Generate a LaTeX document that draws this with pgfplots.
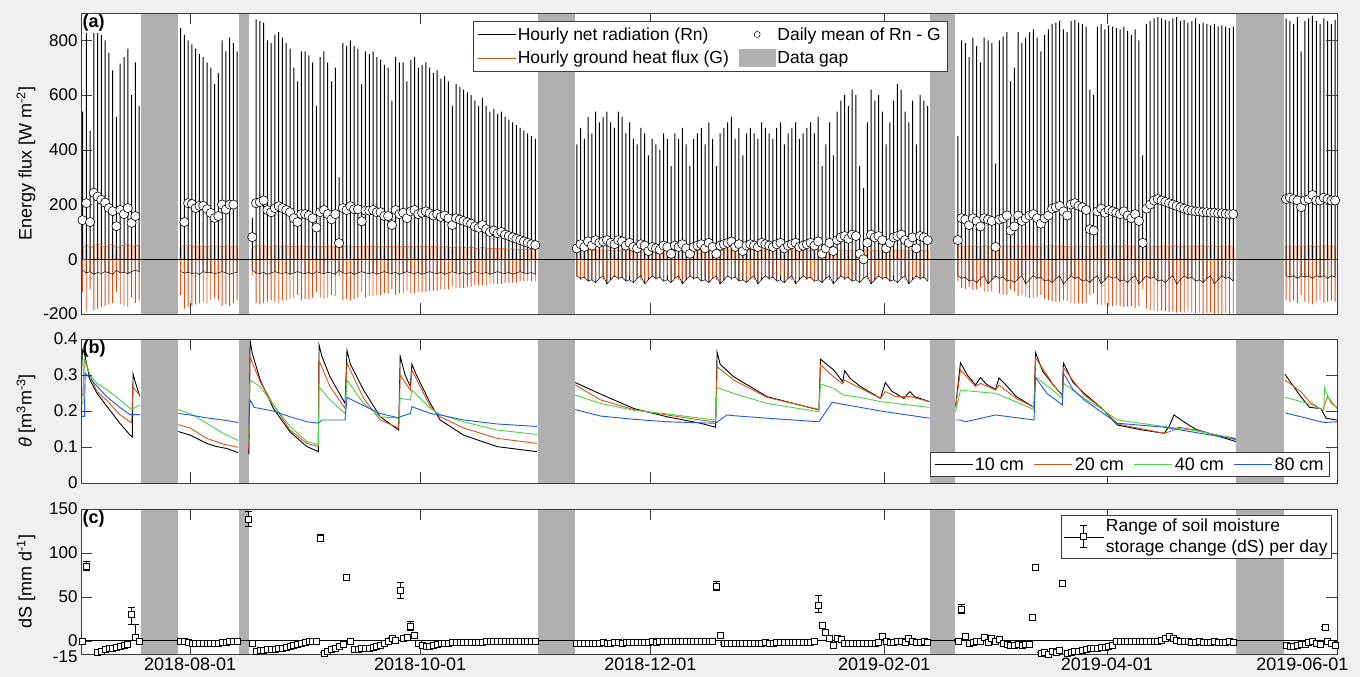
\documentclass[border=0pt]{standalone}
\usepackage{pgfplots}
\pgfplotsset{compat=1.18}
\usepackage{pgfplotstable}
\usepackage{fontspec}
\setmainfont{Liberation Sans}

\definecolor{bgc}{RGB}{240,240,240}
\definecolor{gapc}{RGB}{176,176,176}
\definecolor{mor}{RGB}{217,83,25}
\definecolor{peach}{RGB}{246,196,166}
\definecolor{mgr}{RGB}{77,208,70}
\definecolor{mbl}{RGB}{30,90,225}
\definecolor{axc}{RGB}{60,60,60}

% day index: days since 2018-07-01
\pgfplotstableread{
d rn rl gl gh m
2.5 540 -40 -120 40 143
3.5 850 -50 -190 55 205
4.5 470 -45 -110 40 136
5.5 830 -55 -185 50 243
6.5 870 -48 -180 55 229
7.5 820 -52 -175 50 217
8.5 800 -45 -170 45 207
9.5 755 -50 -165 50 187
10.5 690 -55 -160 55 176
11.5 520 -40 -120 40 121
12.5 715 -50 -165 50 180
13.5 740 -48 -170 50 165
14.5 770 -52 -175 55 187
15.5 600 -45 -140 45 133
16.5 720 -40 -160 50 158
17.5 560 -45 -150 50 nan
nan nan nan nan nan nan
28.5 845 -45 -130 45 nan
29.5 820 -50 -180 50 136
30.5 800 -48 -175 48 205
31.5 785 -52 -170 50 202
32.5 770 -50 -165 45 187
33.5 750 -55 -160 50 195
34.5 740 -45 -155 48 195
35.5 720 -50 -160 45 183
36.5 700 -48 -150 50 169
37.5 640 -52 -140 48 151
38.5 680 -50 -150 50 158
39.5 800 -45 -170 45 200
40.5 760 -50 -165 50 182
41.5 810 -55 -170 48 200
42.5 790 -50 -160 45 200
43.5 760 -48 -150 50 nan
nan nan nan nan nan nan
47.5 150 -40 -60 40 81
48.5 877 -50 -160 50 205
49.5 870 -52 -165 48 209
50.5 865 -48 -160 50 215
51.5 800 -55 -155 45 180
52.5 790 -50 -150 48 172
53.5 820 -45 -155 50 187
54.5 830 -50 -160 45 194
55.5 810 -52 -150 48 187
56.5 790 -48 -150 50 180
57.5 770 -55 -145 45 172
58.5 700 -50 -140 48 150
59.5 650 -45 -130 45 136
60.5 760 -50 -150 50 165
61.5 760 -52 -145 48 165
62.5 745 -48 -145 45 160
63.5 720 -55 -140 50 150
64.5 560 -45 -120 45 116
65.5 740 -50 -140 48 172
66.5 760 -52 -145 45 180
67.5 720 -48 -140 50 165
68.5 650 -50 -130 45 146
69.5 700 -55 -135 48 165
70.5 300 -40 -60 40 59
71.5 790 -50 -150 45 187
72.5 780 -52 -145 48 180
73.5 800 -48 -150 50 194
74.5 780 -55 -145 45 183
75.5 770 -50 -140 48 183
76.5 640 -45 -120 45 139
77.5 760 -50 -140 48 178
78.5 750 -52 -135 45 178
79.5 760 -48 -135 50 180
80.5 740 -55 -130 45 172
81.5 730 -50 -130 48 172
82.5 710 -45 -125 45 158
83.5 700 -50 -125 48 158
84.5 580 -52 -110 45 125
85.5 740 -48 -130 50 180
86.5 720 -55 -125 45 165
87.5 720 -50 -125 48 170
88.5 650 -45 -115 45 150
89.5 730 -50 -125 48 175
90.5 740 -52 -125 45 180
91.5 700 -48 -120 50 165
92.5 710 -55 -120 45 170
93.5 720 -50 -120 48 175
94.5 700 -45 -115 45 168
95.5 680 -50 -115 48 160
96.5 690 -52 -115 45 165
97.5 660 -48 -110 45 155
98.5 670 -55 -110 48 160
99.5 650 -50 -110 45 150
100.5 560 -45 -100 40 125
101.5 640 -50 -105 45 150
102.5 630 -52 -105 45 145
103.5 620 -48 -105 45 140
104.5 610 -55 -100 40 135
105.5 600 -50 -100 45 130
106.5 580 -45 -95 40 120
107.5 560 -50 -95 40 115
108.5 590 -52 -95 45 125
109.5 560 -48 -95 40 110
110.5 540 -55 -90 40 100
111.5 550 -50 -90 40 105
112.5 530 -45 -90 40 95
113.5 540 -50 -90 40 100
114.5 520 -52 -85 40 90
115.5 510 -48 -85 35 85
116.5 500 -55 -85 40 80
117.5 490 -50 -85 35 75
118.5 480 -45 -80 35 70
119.5 470 -50 -80 35 65
120.5 460 -52 -80 35 60
121.5 450 -48 -80 35 55
122.5 440 -55 -80 35 52
nan nan nan nan nan nan
133.5 420 -60 -65 32 40
134.5 480 -70 -75 35 55
135.5 440 -65 -70 30 45
136.5 520 -80 -80 35 65
137.5 460 -75 -60 33 50
138.5 540 -85 -85 30 70
139.5 500 -70 -70 35 60
140.5 520 -60 -75 32 65
141.5 540 -90 -80 30 70
142.5 500 -75 -65 34 60
143.5 480 -60 -65 32 55
144.5 540 -70 -75 35 70
145.5 520 -65 -70 30 65
146.5 460 -80 -80 35 50
147.5 500 -75 -60 33 60
148.5 440 -85 -85 30 45
149.5 420 -70 -70 35 40
150.5 480 -60 -75 32 55
151.5 460 -90 -80 30 50
152.5 380 -75 -65 34 30
153.5 440 -60 -65 32 45
154.5 420 -70 -75 35 40
155.5 400 -65 -70 30 35
156.5 460 -80 -80 35 50
157.5 440 -75 -60 33 45
158.5 340 -85 -85 30 20
159.5 460 -70 -70 35 50
160.5 440 -60 -75 32 45
161.5 480 -90 -80 30 55
162.5 420 -75 -65 34 40
163.5 340 -60 -65 32 20
164.5 440 -70 -75 35 45
165.5 460 -65 -70 30 50
166.5 480 -80 -80 35 55
167.5 420 -75 -60 33 40
168.5 500 -85 -85 30 60
169.5 440 -70 -70 35 45
170.5 340 -60 -75 32 20
171.5 460 -90 -80 30 50
172.5 480 -75 -65 34 55
173.5 500 -60 -65 32 60
174.5 520 -70 -75 35 65
175.5 440 -65 -70 30 45
176.5 480 -80 -80 35 55
177.5 380 -75 -60 33 30
178.5 460 -85 -85 30 50
179.5 480 -70 -70 35 55
180.5 460 -60 -75 32 50
181.5 440 -90 -80 30 45
182.5 500 -75 -65 34 60
183.5 480 -60 -65 32 55
184.5 460 -70 -75 35 50
185.5 440 -65 -70 30 45
186.5 480 -80 -80 35 55
187.5 500 -75 -60 33 60
188.5 420 -85 -85 30 40
189.5 460 -70 -70 35 50
190.5 480 -60 -75 32 55
191.5 500 -90 -80 30 60
192.5 440 -75 -65 34 45
193.5 460 -60 -65 32 50
194.5 480 -70 -75 35 55
195.5 500 -65 -70 30 60
196.5 460 -80 -80 35 50
197.5 520 -75 -60 33 65
198.5 340 -85 -85 30 20
199.5 420 -70 -70 35 40
200.5 500 -60 -75 32 60
201.5 380 -90 -80 30 30
202.5 540 -75 -65 34 70
203.5 580 -60 -65 32 80
204.5 600 -70 -75 35 85
205.5 560 -65 -70 30 75
206.5 620 -80 -80 35 90
207.5 600 -75 -60 33 85
208.5 340 -85 -85 30 20
209.5 260 -70 -70 35 0
210.5 500 -60 -75 32 60
211.5 620 -90 -80 30 90
212.5 580 -75 -65 34 80
213.5 600 -60 -65 32 85
214.5 540 -70 -75 35 70
215.5 420 -65 -70 30 40
216.5 500 -80 -80 35 60
217.5 580 -75 -60 33 80
218.5 640 -85 -85 30 85
219.5 620 -70 -70 35 90
220.5 540 -60 -75 32 70
221.5 500 -90 -80 30 60
222.5 580 -75 -65 34 80
223.5 420 -60 -65 32 40
224.5 600 -70 -75 35 85
225.5 580 -65 -70 30 80
226.5 560 -80 -80 35 70
nan nan nan nan nan nan
234.5 450 -60 -80 45 70
235.5 800 -70 -105 50 150
236.5 790 -65 -108 45 145
237.5 740 -80 -100 50 125
238.5 810 -75 -112 48 150
239.5 780 -85 -110 50 140
240.5 720 -70 -100 45 120
241.5 810 -60 -118 50 150
242.5 800 -90 -120 48 145
243.5 790 -75 -118 45 140
244.5 350 -60 -70 40 45
245.5 800 -70 -125 50 145
246.5 815 -65 -128 48 150
247.5 830 -80 -130 50 160
248.5 650 -75 -110 45 105
249.5 700 -85 -118 48 120
250.5 830 -70 -135 50 160
251.5 790 -60 -132 45 140
252.5 810 -90 -138 50 150
253.5 830 -75 -140 48 160
254.5 840 -60 -142 50 165
255.5 810 -70 -138 45 150
256.5 760 -65 -130 48 130
257.5 820 -80 -145 50 150
258.5 840 -75 -148 48 160
259.5 860 -85 -152 50 185
260.5 865 -70 -155 45 190
261.5 870 -60 -155 50 195
262.5 840 -90 -150 48 175
263.5 830 -75 -152 45 160
264.5 870 -60 -160 50 200
265.5 875 -70 -162 48 205
266.5 865 -65 -160 50 195
267.5 860 -80 -162 45 190
268.5 850 -75 -160 48 180
269.5 620 -85 -130 45 110
270.5 600 -70 -125 45 105
271.5 850 -60 -165 50 175
272.5 860 -90 -168 48 185
273.5 840 -75 -165 45 170
274.5 855 -60 -170 50 180
275.5 850 -70 -170 48 175
276.5 845 -65 -168 50 170
277.5 840 -80 -172 45 165
278.5 850 -75 -175 48 175
279.5 835 -85 -172 50 160
280.5 820 -70 -170 45 150
281.5 840 -60 -178 50 165
282.5 800 -90 -170 48 140
283.5 380 -75 -110 45 60
284.5 860 -60 -180 50 185
285.5 870 -70 -185 48 200
286.5 880 -65 -188 50 215
287.5 885 -80 -190 45 220
288.5 880 -75 -188 48 215
289.5 875 -85 -190 50 210
290.5 870 -70 -192 45 205
291.5 880 -60 -190 50 200
292.5 885 -90 -195 48 195
293.5 870 -75 -192 45 190
294.5 875 -60 -195 50 185
295.5 865 -70 -190 48 180
296.5 870 -65 -195 50 178
297.5 880 -80 -198 45 175
298.5 860 -75 -195 48 175
299.5 865 -85 -200 50 172
300.5 860 -70 -198 45 172
301.5 855 -60 -195 50 170
302.5 860 -90 -200 48 170
303.5 850 -75 -198 45 168
304.5 855 -60 -200 50 168
305.5 850 -70 -196 48 166
306.5 845 -65 -200 50 165
307.5 850 -80 -198 45 165
nan nan nan nan nan nan
321.5 880 -60 -150 50 220
322.5 870 -65 -155 48 225
323.5 860 -60 -150 50 220
324.5 885 -70 -160 45 215
325.5 760 -60 -130 48 190
326.5 870 -65 -155 50 215
327.5 880 -60 -160 48 220
328.5 890 -70 -165 50 235
329.5 870 -60 -155 45 215
330.5 860 -65 -150 48 215
331.5 880 -60 -160 50 225
332.5 870 -70 -155 48 220
333.5 860 -60 -150 50 215
334.5 875 -65 -155 45 215
}\flux

\pgfplotstableread{
d ds ep em
2.5 -1 1 1
3.5 85 5 5
6.5 -13.5 1 1
7.5 -12 1 1
8.5 -10 1 1
9.5 -9 1 1
10.5 -8 1 1
11.5 -7 1 1
12.5 -6 1 1
13.5 -5 1 1
14.5 -4 1 1
15.5 30 8 11
16.5 4 15 3
17.5 -1 1 1
28.5 -1 1 1
29.5 -1 1 1
30.5 -1.5 1 1
31.5 -3 1 1
32.5 -3 1 1
33.5 -3 1 1
34.5 -3 1 1
35.5 -3 1 1
36.5 -3 1 1
37.5 -3 1 1
38.5 -2.5 1 1
39.5 -2 1 1
40.5 -1.5 1 1
41.5 -1 1 1
42.5 -1 1 1
43.5 -0.5 1 1
46.5 138 9 8
47.5 -3 3 1
48.5 -12 1 1
49.5 -11 1 1
50.5 -11 1 1
51.5 -10 1 1
52.5 -10 1 1
53.5 -10 1 1
54.5 -9 1 1
55.5 -8 1 1
56.5 -7 1 1
57.5 -6 1 1
58.5 -5 1 1
59.5 -4 1 1
60.5 -3 1 1
61.5 -2 1 1
62.5 -1 1 1
63.5 -1 1 1
64.5 0 1 1
65.5 117 4 4
66.5 -14 1 1
67.5 -12 1 1
68.5 -10 1 1
69.5 -8 1 1
70.5 -6 1 1
71.5 -4 1 1
72.5 72 2 2
73.5 0 1 1
74.5 -10 1 1
75.5 -10 1 1
76.5 -9 1 1
77.5 -9 1 1
78.5 -8 1 1
79.5 -7 1 1
80.5 -6 1 1
81.5 -5 1 1
82.5 -3 1 1
83.5 -1 1 1
84.5 3 1 1
85.5 1 1 1
86.7 57 10 9
87.5 3 2 2
88.5 4 1 1
89.5 17 5 5
90.5 6 2 2
91.5 -3 1 1
92.5 -5 1 1
93.5 -6 1 1
94.5 -6 1 1
95.5 -5 1 1
96.5 -4 1 1
97.5 -3 1 1
98.5 -3 1 1
99.5 -3 1 1
100.5 -2 1 1
101.5 -2 1 1
102.5 -2 1 1
103.5 -2 1 1
104.5 -2 1 1
105.5 -2 1 1
106.5 -1.5 1 1
107.5 -1.5 1 1
108.5 -1.5 1 1
109.5 -1 1 1
110.5 -1 1 1
111.5 -1 1 1
112.5 -1 1 1
113.5 -1 1 1
114.5 -1 1 1
115.5 -0.5 1 1
116.5 -0.5 1 1
117.5 -0.5 1 1
118.5 -0.5 1 1
119.5 0 1 1
120.5 0 1 1
121.5 0 1 1
122.5 0 1 1
133.5 -3 1 1
134.5 -3 1 1
135.5 -2.5 1 1
136.5 -3 1 1
137.5 -2.5 1 1
138.5 -2.5 1 1
139.5 -3 1 1
140.5 -2 1 1
141.5 -2.5 1 1
142.5 -2.5 1 1
143.5 -2 1 1
144.5 -2 1 1
145.5 -2.5 1 1
146.5 -2 1 1
147.5 -2 1 1
148.5 -1.5 1 1
149.5 -2 1 1
150.5 -1.5 1 1
151.5 -1.5 1 1
152.5 -1.5 1 1
153.5 -1 1 1
154.5 -1.5 1 1
155.5 -1 1 1
156.5 -1 1 1
157.5 -0.5 1 1
158.5 -1 1 1
159.5 -0.5 1 1
160.5 -1 1 1
161.5 -0.5 1 1
162.5 -0.5 1 1
163.5 0 1 1
164.5 -0.5 1 1
165.5 -0.5 1 1
166.5 0 1 1
167.5 -0.5 1 1
168.5 -1 1 1
169.5 -1 1 1
170.5 62 6 5
171.5 6 3 2
172.5 -3 1 1
173.5 -3 1 1
174.5 -3 1 1
175.5 -3 1 1
176.5 -2.5 1 1
177.5 -3 1 1
178.5 -3 1 1
179.5 -2.5 1 1
180.5 -2.5 1 1
181.5 -2.5 1 1
182.5 -2.5 1 1
183.5 -2 1 1
184.5 -2.5 1 1
185.5 -2.5 1 1
186.5 -2 1 1
187.5 -2 1 1
188.5 -2 1 1
189.5 -2 1 1
190.5 -2 1 1
191.5 -1.5 1 1
192.5 -2 1 1
193.5 -1.5 1 1
194.5 -1.5 1 1
195.5 -1.5 1 1
196.5 -1 1 1
197.6 40 12 8
198.5 18 3 3
199.5 10 3 3
200.5 3 2 2
201.5 -5 1 1
202.5 3 2 1
203.5 2 1 1
204.5 -3 1 1
205.5 -3 1 1
206.5 -3 1 1
207.5 -3 1 1
208.5 -3 1 1
209.5 -3 1 1
210.5 -3 1 1
211.5 -3 1 1
212.5 -3 1 1
213.5 -2 1 1
214.5 5 3 1
215.5 -1 1 1
216.5 -2 1 1
217.5 -2 1 1
218.5 -1 1 1
219.5 -1 1 1
220.5 -2 1 1
221.5 3 1 1
222.5 -1 1 1
223.5 -2 1 1
224.5 -2 1 1
225.5 -1 1 1
226.5 -2 1 1
234.5 0 2 1
235.5 36 6 5
236.5 5 2 2
237.5 -3 1 1
238.5 -2 1 1
239.5 -1 1 1
240.5 0 1 1
241.5 4 2 1
242.5 -2 1 1
243.5 3 2 1
244.5 -1 1 1
245.5 2 1 1
246.5 -3 1 1
247.5 -4 1 1
248.5 -5 1 1
249.5 -5 1 1
250.5 -4 1 1
251.5 -5 1 1
252.5 -4 1 1
253.5 -4 1 1
254.3 27 3 3
255.1 84 2 2
256.5 -14 1 1
257.5 -13 1 1
258.5 -15 1 1
259.5 -12 1 1
260.5 -13 1 1
261.5 -11 1 1
262.3 66 2 2
263.5 -14 1 1
264.5 -13 1 1
265.5 -12 1 1
266.5 -12 1 1
267.5 -11 1 1
268.5 -10 1 1
269.5 -9 1 1
270.5 -9 1 1
271.5 -8 1 1
272.5 -7 1 1
273.5 -7 1 1
274.5 -6 1 1
275.5 -5 1 1
276.5 -1 1 1
277.5 0 1 1
278.5 -1 1 1
279.5 -1 1 1
280.5 -1 1 1
281.5 0 1 1
282.5 -1 1 1
283.5 -1 1 1
284.5 0 1 1
285.5 -1 1 1
286.5 0 1 1
287.5 -1 1 1
288.5 1 1 1
289.5 3 1 1
290.5 5 1 1
291.5 3 1 1
292.5 1 1 1
293.5 0 1 1
294.5 -1 1 1
295.5 -1 1 1
296.5 -2 1 1
297.5 -2 1 1
298.5 -1 1 1
299.5 -2 1 1
300.5 -2 1 1
301.5 -2 1 1
302.5 -1 1 1
303.5 -2 1 1
304.5 -2 1 1
305.5 -2 1 1
306.5 -1 1 1
307.5 -2 1 1
321.5 -5 1 1
322.5 -6 1 1
323.5 -6 1 1
324.5 -5 1 1
325.5 -4 1 1
326.5 -4 1 1
327.5 -2 1 1
328.5 0 1 1
329.5 -3 1 1
330.5 -4 1 1
331.8 15 2 2
332.5 -1 1 1
333.5 -3 1 1
334.5 -5 1 1
}\dst

\newcommand{\gapbands}[2]{%
  \addplot[fill=gapc,draw=none,forget plot] coordinates {(18.0,#1) (18.0,#2) (27.7,#2) (27.7,#1)};
  \addplot[fill=gapc,draw=none,forget plot] coordinates {(44.0,#1) (44.0,#2) (46.6,#2) (46.6,#1)};
  \addplot[fill=gapc,draw=none,forget plot] coordinates {(123.1,#1) (123.1,#2) (133.0,#2) (133.0,#1)};
  \addplot[fill=gapc,draw=none,forget plot] coordinates {(227.1,#1) (227.1,#2) (233.8,#2) (233.8,#1)};
  \addplot[fill=gapc,draw=none,forget plot] coordinates {(308.3,#1) (308.3,#2) (320.9,#2) (320.9,#1)};
}

\newcommand{\fs}{\fontsize{18}{21}\selectfont}
\newcommand{\fl}{\fontsize{17.5}{21}\selectfont}
\newcommand{\fy}{\fontsize{17}{19}\selectfont}

\pgfplotsset{
  panel/.style={
    scale only axis, width=1256pt,
    xmin=2.1, xmax=335,
    axis background/.style={fill=white},
    axis on top,
    tick align=inside, xtick pos=both, ytick pos=both,
    major tick length=11pt,
    xtick={31,92,153,215,274},
    axis line style={axc, line width=0.5pt},
    every tick/.style={axc, line width=0.5pt},
    xticklabel style={font=\fs, text=black},
    yticklabel style={font=\fy, text=black, inner ysep=0pt},
    /pgf/number format/assume math mode=true,
    unbounded coords=jump,
    every axis y label/.style={at={(axis description cs:-0.0438,0.5)}, rotate=90, anchor=center, font=\fs},
    legend cell align=left,
  },
  lleg/.style={legend image code/.code={\draw[##1] (0pt,0pt) -- (38pt,0pt);}},
}

\begin{document}
\begin{tikzpicture}
\fill[bgc] (0pt,0pt) rectangle (1360pt,-677pt);
\useasboundingbox (0pt,0pt) rectangle (1360pt,-677pt);

% ---------------- panel (a)
\begin{axis}[panel, at={(81pt,-13pt)}, anchor=north west, height=301pt,
  ymin=-200, ymax=900, ytick={-200,0,200,400,600,800}, xticklabels={},
  ylabel={Energy flux [W m\textsuperscript{-2}]},
  legend columns=2,
  legend style={at={(axis description cs:0.3121,0.973)}, anchor=north west,
    draw=axc, line width=0.5pt, fill=white, font=\fl,
    inner xsep=4pt, inner ysep=4pt, row sep=5pt,
    /tikz/every even column/.append style={column sep=8pt}},
]
\gapbands{-200}{900}
\addlegendimage{black, line width=0.4pt, lleg}
\addlegendentry{Hourly net radiation (Rn)}
\addlegendimage{legend image code/.code={\draw[black, line width=0.5pt, fill=white] (18pt,0pt) circle (3pt);}}
\addlegendentry{Daily mean of Rn - G}
\addlegendimage{mor, line width=0.6pt, lleg}
\addlegendentry{Hourly ground heat flux (G)}
\addlegendimage{legend image code/.code={\fill[gapc] (0pt,-8pt) rectangle (36pt,9pt);}}
\addlegendentry{Data gap}

\addplot[ybar, bar width=2.6pt, bar shift=0pt, fill=peach, draw=none, forget plot] table[x=d,y=gh]{\flux};
\addplot[ybar, bar width=1.0pt, bar shift=0pt, fill=black, draw=none, forget plot] table[x=d,y=rn]{\flux};
\addplot[ybar, bar width=1.0pt, bar shift=0pt, fill=black, draw=none, forget plot] table[x=d,y=rl]{\flux};
\addplot[ybar, bar width=0.9pt, bar shift=0pt, fill=mor, draw=none, forget plot] table[x=d,y=gl]{\flux};
\addplot[mor, line width=0.4pt, forget plot] table[x=d,y=gh]{\flux};
\addplot[black, line width=0.5pt, forget plot] table[x=d,y=rl]{\flux};
\addplot[black, line width=0.7pt, forget plot] coordinates {(2.1,0) (335,0)};
\addplot[only marks, mark=*, mark size=4.6pt, mark options={fill=white, draw=black, line width=0.6pt}, forget plot] table[x=d,y=m]{\flux};
\node[anchor=north west, inner sep=1.5pt, fill=white, font=\bfseries\fs] at (rel axis cs:0,1) {(a)};
\end{axis}

% ---------------- panel (b)
\begin{axis}[panel, at={(81pt,-339pt)}, anchor=north west, height=144pt,
  ymin=0, ymax=0.4, ytick={0,0.1,0.2,0.3,0.4}, xticklabels={},
  ylabel={\textit{θ} [m\textsuperscript{3}m\textsuperscript{-3}]},
  lleg,
  legend columns=4,
  legend style={at={(axis description cs:0.9944,0.042)}, anchor=south east,
    draw=axc, line width=0.5pt, fill=white, font=\fs,
    inner xsep=4pt, inner ysep=3pt,
    /tikz/every even column/.append style={column sep=8pt}},
]
\gapbands{0}{0.4}
\addplot[black, line width=0.9pt] coordinates {
(2.2,0.30) (2.5,0.37) (3.0,0.36) (4.5,0.286) (6.3,0.25) (8.9,0.214) (12.4,0.166) (15.1,0.133) (15.7,0.128) (15.9,0.303) (16.5,0.28) (17.7,0.24) (18,nan)
(27.9,0.143) (31,0.133) (35.4,0.11) (38.1,0.101) (40.7,0.096) (43.8,0.084) (44,nan)
(46.6,0.08) (46.9,0.397) (47.5,0.36) (49.6,0.286) (53.1,0.207) (57.5,0.142) (62,0.101) (65,0.087) (65.2,0.383) (66,0.35) (68.1,0.295) (72.1,0.221) (72.6,0.368) (73.5,0.33) (77,0.258) (81.4,0.184) (86.3,0.147) (86.7,0.352) (88,0.3) (89.4,0.268) (89.8,0.33) (91,0.3) (94.7,0.221) (97.3,0.175) (103.5,0.133) (112.4,0.101) (123,0.087) (123.1,nan)
(133.1,0.279) (139.8,0.247) (148.6,0.207) (157.4,0.184) (166.3,0.166) (170.3,0.155) (170.7,0.363) (171.5,0.33) (175.1,0.295) (183.9,0.24) (197.7,0.203) (198.1,0.344) (201.6,0.314) (204.0,0.281) (204.5,0.312) (206,0.29) (208.7,0.268) (214,0.235) (215.3,0.279) (217,0.255) (220.2,0.235) (221.8,0.254) (223,0.24) (227,0.226) (227.1,nan)
(233.9,0.212) (235.2,0.334) (237,0.3) (239.2,0.272) (240.5,0.293) (242,0.275) (244.5,0.26) (245.4,0.292) (247,0.275) (250,0.24) (254.7,0.21) (255.1,0.362) (257,0.31) (260,0.27) (262.2,0.244) (262.5,0.333) (265,0.28) (268,0.249) (272.4,0.21) (276.8,0.161) (283,0.148) (289.2,0.138) (290.5,0.157) (291.8,0.189) (294.4,0.17) (297.6,0.149) (302,0.135) (308.2,0.115) (308.3,nan)
(321.2,0.302) (325.4,0.24) (327.7,0.21) (330.7,0.207) (332.1,0.18) (335,0.175)
};
\addlegendentry{10 cm}
\addplot[mor, line width=0.9pt] coordinates {
(2.2,0.245) (2.6,0.245) (3.0,0.342) (4.5,0.30) (6.3,0.254) (8.9,0.23) (12.4,0.19) (15.5,0.167) (15.9,0.267) (17.7,0.243) (18,nan)
(27.9,0.162) (31,0.153) (35.4,0.124) (39.8,0.108) (43.8,0.099) (44,nan)
(46.6,0.095) (46.9,0.35) (49.6,0.281) (53.1,0.217) (57.5,0.147) (62,0.11) (65,0.101) (65.2,0.34) (68.1,0.268) (72.1,0.207) (72.6,0.333) (77,0.235) (81.4,0.175) (86.3,0.153) (86.7,0.30) (89.4,0.258) (89.8,0.314) (94.7,0.212) (97.3,0.184) (103.5,0.153) (112.4,0.124) (123,0.11) (123.1,nan)
(133.1,0.272) (139.8,0.231) (148.6,0.204) (157.4,0.189) (166.3,0.175) (170.3,0.17) (170.7,0.323) (175.1,0.286) (183.9,0.238) (197.7,0.204) (198.1,0.328) (201.6,0.295) (204.0,0.275) (204.5,0.286) (208.7,0.263) (214,0.235) (215.3,0.254) (218,0.24) (221.8,0.24) (227,0.226) (227.1,nan)
(233.9,0.21) (235.2,0.314) (239.2,0.268) (240.5,0.277) (244.5,0.258) (245.4,0.272) (250,0.235) (254.7,0.21) (255.1,0.348) (260,0.27) (262.2,0.242) (262.5,0.32) (268,0.244) (272.4,0.21) (276.8,0.164) (289.2,0.138) (291.8,0.147) (293,0.155) (297.6,0.147) (308.2,0.12) (308.3,nan)
(321.2,0.286) (325.4,0.254) (327.7,0.226) (331.2,0.202) (332.5,0.24) (335,0.207)
};
\addlegendentry{20 cm}
\addplot[mgr, line width=0.9pt] coordinates {
(2.2,0.221) (2.6,0.221) (3.0,0.346) (4.5,0.30) (6.3,0.277) (8.9,0.26) (12.4,0.231) (15.5,0.204) (16.5,0.21) (17.7,0.217) (18,nan)
(27.9,0.204) (31,0.193) (35.4,0.166) (39.8,0.138) (43.8,0.118) (44,nan)
(46.6,0.115) (46.9,0.286) (49.6,0.268) (53.1,0.217) (57.5,0.157) (62,0.115) (65,0.106) (65.2,0.267) (68.1,0.231) (72.1,0.193) (72.6,0.286) (77,0.221) (81.4,0.184) (86.3,0.18) (86.7,0.235) (89.4,0.231) (89.8,0.258) (94.7,0.207) (97.3,0.19) (103.5,0.17) (112.4,0.147) (123,0.135) (123.1,nan)
(133.1,0.244) (139.8,0.221) (148.6,0.202) (157.4,0.192) (166.3,0.18) (170.3,0.175) (170.7,0.265) (175.1,0.249) (183.9,0.221) (197.7,0.198) (198.1,0.275) (201.6,0.263) (204.3,0.244) (208.7,0.238) (214,0.226) (227,0.21) (227.1,nan)
(233.9,0.198) (235.2,0.258) (239.2,0.254) (244.5,0.249) (250,0.225) (254.7,0.204) (255.1,0.295) (260,0.255) (262.2,0.235) (262.5,0.277) (268,0.235) (272.4,0.207) (276.8,0.175) (289.2,0.157) (297.6,0.145) (308.2,0.124) (308.3,nan)
(321.2,0.238) (327.7,0.22) (331.5,0.202) (331.7,0.265) (333.4,0.221) (335,0.21)
};
\addlegendentry{40 cm}
\addplot[mbl, line width=0.9pt] coordinates {
(2.2,0.185) (3.0,0.185) (3.2,0.305) (4.5,0.29) (8.9,0.24) (12.4,0.21) (15.1,0.19) (17.7,0.19) (18,nan)
(27.9,0.193) (31,0.189) (35.4,0.181) (39.8,0.175) (43.8,0.168) (44,nan)
(46.6,0.168) (46.9,0.231) (48,0.21) (53.1,0.2) (57.5,0.184) (62,0.17) (65,0.166) (66,0.175) (72.1,0.175) (72.6,0.238) (77,0.215) (81.4,0.193) (86.3,0.181) (86.7,0.184) (89.4,0.193) (89.8,0.212) (94.7,0.193) (97.3,0.189) (103.5,0.175) (112.4,0.164) (123,0.157) (123.1,nan)
(133.1,0.204) (139.8,0.186) (148.6,0.177) (157.4,0.17) (170.3,0.166) (173.3,0.189) (175.1,0.187) (183.9,0.18) (197.7,0.17) (201.2,0.224) (208.7,0.21) (214,0.2) (227,0.18) (227.1,nan)
(233.9,0.175) (235.2,0.175) (236.5,0.17) (244.5,0.189) (254.7,0.175) (255.1,0.293) (258,0.25) (262.2,0.217) (262.5,0.305) (265,0.26) (268,0.231) (272.4,0.198) (276.8,0.166) (289.2,0.155) (297.6,0.14) (308.2,0.122) (308.3,nan)
(321.2,0.195) (331.6,0.168) (335,0.17)
};
\addlegendentry{80 cm}
\node[anchor=north west, inner sep=1.5pt, font=\bfseries\fs] at (rel axis cs:0,1) {(b)};
\end{axis}

% ---------------- panel (c)
\begin{axis}[panel, at={(81pt,-509pt)}, anchor=north west, height=145pt,
  ymin=-15, ymax=150, ytick={0,50,100,150},
  extra y ticks={-15}, extra y tick style={yticklabel style={yshift=-3pt}},
  xticklabels={2018-08-01,2018-10-01,2018-12-01,2019-02-01,2019-04-01},
  extra x ticks={335}, extra x tick labels={2019-06-01},
  extra x tick style={xticklabel style={anchor=north east, xshift=15pt}},
  ylabel={dS [mm d\textsuperscript{-1}]},
  legend style={at={(axis description cs:0.996,0.959)}, anchor=north east,
    draw=axc, line width=0.5pt, fill=white, font=\fl,
    inner xsep=2pt, inner ysep=2pt, cells={align=left}},
]
\gapbands{-15}{150}
\addlegendimage{legend image code/.code={
  \path (0pt,0pt) -- (40pt,0pt);
  \draw[black, line width=0.6pt] (20pt,-11pt) -- (20pt,11pt);
  \draw[black, line width=0.6pt] (16.5pt,11pt) -- (23.5pt,11pt);
  \draw[black, line width=0.6pt] (16.5pt,-11pt) -- (23.5pt,-11pt);
  \draw[black, line width=0.6pt, fill=white] (17pt,-3pt) rectangle (23pt,3pt);}}
\addlegendentry{Range of soil moisture\\storage change (dS) per day}
\addplot[black, line width=0.7pt, forget plot] coordinates {(2.1,0) (335,0)};
\addplot[only marks, mark=square*, mark size=3pt, mark options={fill=white, draw=black, line width=0.6pt}, forget plot,
  error bars/.cd, y dir=both, y explicit,
  error bar style={black, line width=0.6pt},
  error mark options={black, line width=0.6pt, mark size=3.5pt, rotate=90}]
  table[x=d, y=ds, y error plus=ep, y error minus=em]{\dst};
\node[anchor=north west, inner sep=1.5pt, font=\bfseries\fs] at (rel axis cs:0,1) {(c)};
\end{axis}
\end{tikzpicture}
\end{document}
